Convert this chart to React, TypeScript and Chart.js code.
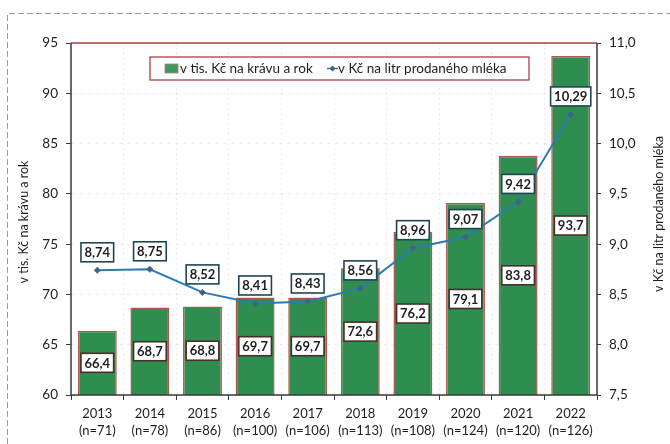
import React, { useEffect, useRef } from 'react';
import { Chart, registerables } from 'chart.js';

Chart.register(...registerables);

// ---- Data ----
const years = ['2013', '2014', '2015', '2016', '2017', '2018', '2019', '2020', '2021', '2022'];
const sampleSizes = [71, 78, 86, 100, 106, 113, 108, 124, 120, 126];
const costPerCow = [66.4, 68.7, 68.8, 69.7, 69.7, 72.6, 76.2, 79.1, 83.8, 93.7];
const costPerLitre = [8.74, 8.75, 8.52, 8.41, 8.43, 8.56, 8.96, 9.07, 9.42, 10.29];

const seriesBarName = 'v tis. Kč na krávu a rok';
const seriesLineName = 'v Kč na litr prodaného mléka';
const leftAxisTitle = 'v tis. Kč na krávu a rok';
const rightAxisTitle = 'v Kč na litr prodaného mléka';

const leftMin = 60;
const leftMax = 95;
const leftStep = 5;
const rightMin = 7.5;
const rightMax = 11;
const rightStep = 0.5;

// ---- Styles ----
const FONT = 'Lato, "Open Sans", sans-serif';
const BAR_FILL = '#2f8d50';
const BAR_BORDER = '#b0584d';
const LINE_COLOR = '#2b7bb2';
const MARKER_COLOR = '#3f6484';
const FRAME_RED = '#a8433f';
const AXIS_DARK = '#3a3a3a';
const TEXT = '#1e1e1e';

const fmt = (v: number, d: number) => v.toFixed(d).replace('.', ',');

function labelBox(ctx: CanvasRenderingContext2D, text: string, cx: number, cy: number, border: string) {
  ctx.font = `bold 13px ${FONT}`;
  const w = ctx.measureText(text).width + 7;
  const h = 19;
  ctx.fillStyle = '#ffffff';
  ctx.fillRect(cx - w / 2, cy - h / 2, w, h);
  ctx.lineWidth = 1.6;
  ctx.strokeStyle = border;
  ctx.strokeRect(cx - w / 2, cy - h / 2, w, h);
  ctx.fillStyle = TEXT;
  ctx.textAlign = 'center';
  ctx.textBaseline = 'middle';
  ctx.fillText(text, cx, cy + 0.5);
}

const decorPlugin = {
  id: 'decor',
  beforeDraw(chart: any) {
    const ctx = chart.ctx as CanvasRenderingContext2D;
    ctx.save();
    ctx.fillStyle = '#ffffff';
    ctx.fillRect(0, 0, chart.width, chart.height);
    // outer dashed frame of the chart area
    ctx.strokeStyle = '#9c9c9c';
    ctx.lineWidth = 1;
    ctx.setLineDash([6, 3]);
    ctx.beginPath();
    ctx.moveTo(7.5, chart.height);
    ctx.lineTo(7.5, 13.5);
    ctx.lineTo(chart.width, 13.5);
    ctx.stroke();
    ctx.restore();
  },
  afterDatasetsDraw(chart: any) {
    const ctx = chart.ctx as CanvasRenderingContext2D;
    const a = chart.chartArea;
    const yScale = chart.scales.y;
    ctx.save();
    // plot frame
    ctx.lineWidth = 1.5;
    ctx.strokeStyle = FRAME_RED;
    ctx.beginPath();
    ctx.moveTo(a.left, a.top);
    ctx.lineTo(a.right, a.top);
    ctx.stroke();
    ctx.strokeStyle = AXIS_DARK;
    ctx.beginPath();
    ctx.moveTo(a.left, a.top);
    ctx.lineTo(a.left, a.bottom);
    ctx.lineTo(a.right, a.bottom);
    ctx.lineTo(a.right, a.top);
    ctx.stroke();

    // bar labels (centered in bar)
    const barMeta = chart.getDatasetMeta(0);
    const basePx = yScale.getPixelForValue(leftMin);
    barMeta.data.forEach((el: any, i: number) => {
      const topPx = yScale.getPixelForValue(costPerCow[i]);
      const cy = (topPx + basePx) / 2;
      labelBox(ctx, fmt(costPerCow[i], 1), el.x, cy, '#4a2e2c');
    });
    // line labels (above point)
    const lineMeta = chart.getDatasetMeta(1);
    lineMeta.data.forEach((el: any, i: number) => {
      labelBox(ctx, fmt(costPerLitre[i], 2), el.x, el.y - 18, '#1f4553');
    });

    // legend
    const lx = 150, ly = 57, lw = 379, lh = 23;
    const my = ly + lh / 2;
    ctx.fillStyle = '#ffffff';
    ctx.fillRect(lx, ly, lw, lh);
    ctx.strokeStyle = FRAME_RED;
    ctx.lineWidth = 1.3;
    ctx.strokeRect(lx, ly, lw, lh);
    ctx.fillStyle = '#3c9a60';
    ctx.fillRect(165, my - 4.5, 13, 9);
    ctx.strokeStyle = '#c07a70';
    ctx.lineWidth = 0.8;
    ctx.strokeRect(165, my - 4.5, 13, 9);
    ctx.font = `13.5px ${FONT}`;
    ctx.fillStyle = TEXT;
    ctx.textAlign = 'left';
    ctx.textBaseline = 'middle';
    ctx.fillText(seriesBarName, 180, my + 0.5);
    ctx.strokeStyle = LINE_COLOR;
    ctx.lineWidth = 1.5;
    ctx.beginPath();
    ctx.moveTo(327, my);
    ctx.lineTo(338, my);
    ctx.stroke();
    ctx.fillStyle = MARKER_COLOR;
    ctx.beginPath();
    ctx.moveTo(332.5, my - 3);
    ctx.lineTo(335.5, my);
    ctx.lineTo(332.5, my + 3);
    ctx.lineTo(329.5, my);
    ctx.closePath();
    ctx.fill();
    ctx.fillStyle = TEXT;
    ctx.fillText(seriesLineName, 338, my + 0.5);

    // axis titles
    ctx.font = `12.5px ${FONT}`;
    ctx.textAlign = 'center';
    ctx.textBaseline = 'middle';
    ctx.save();
    ctx.translate(24, 222);
    ctx.rotate(-Math.PI / 2);
    ctx.fillText(leftAxisTitle, 0, 0);
    ctx.restore();
    ctx.save();
    ctx.translate(659, 214);
    ctx.rotate(-Math.PI / 2);
    ctx.fillText(rightAxisTitle, 0, 0);
    ctx.restore();
    ctx.restore();
  },
};

export default function App() {
  const ref = useRef<HTMLCanvasElement | null>(null);

  useEffect(() => {
    if (!ref.current) return;
    const chart = new Chart(ref.current, {
      type: 'bar',
      data: {
        labels: years.map((y, i) => [y, `(n=${sampleSizes[i]})`]),
        datasets: [
          {
            type: 'bar',
            label: seriesBarName,
            data: costPerCow,
            backgroundColor: BAR_FILL,
            borderColor: BAR_BORDER,
            borderWidth: 1.5,
            barPercentage: 0.74,
            categoryPercentage: 1,
            yAxisID: 'y',
            order: 2,
          },
          {
            type: 'line',
            label: seriesLineName,
            data: costPerLitre,
            borderColor: LINE_COLOR,
            borderWidth: 2,
            pointStyle: 'rectRot',
            pointRadius: 3.5,
            pointBackgroundColor: MARKER_COLOR,
            pointBorderColor: MARKER_COLOR,
            pointBorderWidth: 0,
            tension: 0,
            yAxisID: 'y2',
            order: 1,
          } as any,
        ],
      },
      options: {
        animation: false,
        responsive: false,
        maintainAspectRatio: false,
        layout: { padding: { top: 43, left: 0, right: 0, bottom: 0 } },
        plugins: {
          legend: { display: false },
          tooltip: { enabled: false },
        },
        scales: {
          x: {
            offset: true,
            grid: {
              offset: true,
              display: true,
              drawOnChartArea: true,
              color: 'rgba(0,0,0,0.07)',
              tickColor: AXIS_DARK,
              tickLength: 5,
            },
            border: { display: false, dash: [2, 3] },
            ticks: {
              color: TEXT,
              font: { family: FONT, size: 13, lineHeight: 1.3 },
              padding: 5,
              maxRotation: 0,
              autoSkip: false,
            },
            afterFit(scale: any) {
              scale.height = 49;
            },
          },
          y: {
            position: 'left',
            min: leftMin,
            max: leftMax,
            ticks: {
              stepSize: leftStep,
              color: TEXT,
              font: { family: FONT, size: 13.5 },
              padding: 8,
            },
            grid: {
              color: 'rgba(0,0,0,0.06)',
              tickColor: AXIS_DARK,
              tickLength: 5,
            },
            border: { display: false, dash: [4, 4] },
            afterFit(scale: any) {
              scale.width = 71;
            },
          },
          y2: {
            position: 'right',
            min: rightMin,
            max: rightMax,
            ticks: {
              stepSize: rightStep,
              color: TEXT,
              font: { family: FONT, size: 13.5 },
              padding: 8,
              callback: (v: any) => fmt(Number(v), 1),
            },
            grid: {
              drawOnChartArea: false,
              tickColor: AXIS_DARK,
              tickLength: 4,
            },
            border: { display: false },
            afterFit(scale: any) {
              scale.width = 73;
            },
          },
        },
      },
      plugins: [decorPlugin],
    });
    return () => chart.destroy();
  }, []);

  return (
    <div style={{ position: 'fixed', left: 0, top: 0, width: 670, height: 444, background: '#fff' }}>
      <canvas ref={ref} width={670} height={444} style={{ width: 670, height: 444, display: 'block' }} />
    </div>
  );
}
